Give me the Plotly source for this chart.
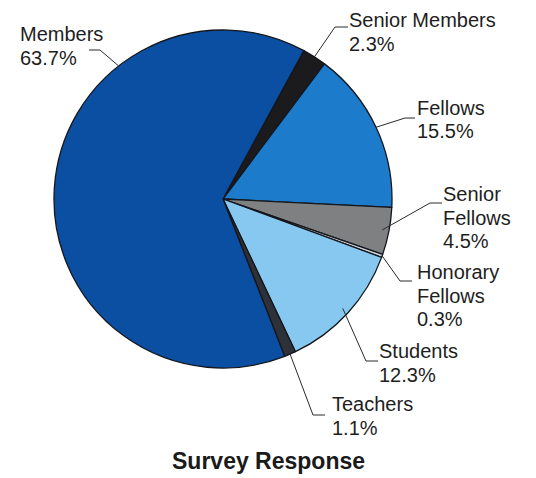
import math
import plotly.graph_objects as go

# Survey response breakdown by membership grade
categories = ["Senior Members", "Fellows", "Senior Fellows", "Honorary Fellows",
              "Students", "Teachers", "Members"]
shares = [2.3, 15.5, 4.5, 0.3, 12.3, 1.1, 63.7]
colors = ["#1b1b1e", "#1c7bcb", "#7e8081", "#c8d2da", "#86c8ef", "#2e3238", "#0b4fa3"]
label_lines = {
    "Senior Fellows": ["Senior", "Fellows"],
    "Honorary Fellows": ["Honorary", "Fellows"],
}

W, H = 536, 478
CX, CY, R = 223, 199, 169          # pie centre and radius, in pixels
START = 28.6                       # first slice starts this many degrees clockwise from 12 o'clock
LINE_GAP = 23.5                    # vertical distance between label lines, px
FONT = "Liberation Sans, Arial"

# Label placement (pixels): text left edge, centre of first line, leader elbow,
# where along the slice the leader lands and at what fraction of the radius
label_pos = {
    "Members":          dict(x=18,  y=34,  elbow=[(89, 50), (100, 50)],   frac=0.71, rad=1.0),
    "Senior Members":   dict(x=347, y=20,  elbow=[(348, 27), (335, 27)],  frac=0.5,  rad=1.0),
    "Fellows":          dict(x=415, y=108, elbow=[(415, 118), (405, 118)], frac=0.5, rad=1.0),
    "Senior Fellows":   dict(x=441, y=194, elbow=[(442, 203), (430, 203)], frac=0.5, rad=0.96),
    "Honorary Fellows": dict(x=415, y=272, elbow=[(412, 281), (400, 281)], frac=0.5, rad=1.0),
    "Students":         dict(x=377, y=351, elbow=[(378, 361), (366, 361)], frac=0.5, rad=0.96),
    "Teachers":         dict(x=330, y=404, elbow=[(325, 415), (313, 415)], frac=0.5, rad=1.0),
}


def px(x):
    return x / W


def py(y):
    return 1 - y / H


fig = go.Figure(go.Pie(
    labels=categories,
    values=shares,
    sort=False,
    direction="clockwise",
    rotation=START,
    textinfo="none",
    hoverinfo="label+percent",
    marker=dict(colors=colors, line=dict(color="#15161c", width=1.3)),
    domain=dict(x=[px(CX - R), px(CX + R)], y=[py(CY + R), py(CY - R)]),
    showlegend=False,
))

total = sum(shares)
annotations = []
shapes = []
angle = START
for cat, val in zip(categories, shares):
    span = val / total * 360
    pos = label_pos[cat]
    a = math.radians(angle + span * pos["frac"])
    rx = CX + R * pos["rad"] * math.sin(a)
    ry = CY - R * pos["rad"] * math.cos(a)
    pts = pos["elbow"] + [(rx, ry)]
    path = "M " + " L ".join(f"{px(x)},{py(y)}" for x, y in pts)
    shapes.append(dict(type="path", xref="paper", yref="paper", path=path,
                       line=dict(color="#2a2a2a", width=1)))
    lines = label_lines.get(cat, [cat]) + [f"{val}%"]
    for i, line in enumerate(lines):
        annotations.append(dict(
            x=px(pos["x"]), y=py(pos["y"] + i * LINE_GAP), xref="paper", yref="paper",
            xanchor="left", yanchor="middle", align="left", showarrow=False,
            text=line,
            font=dict(family=FONT, size=20, color="#1e1e1e"),
        ))
    angle += span

annotations.append(dict(
    x=px(268), y=py(460.5), xref="paper", yref="paper",
    xanchor="center", yanchor="middle", showarrow=False,
    text="<b>Survey Response</b>",
    font=dict(family=FONT, size=23, color="#1a1a1a"),
))

fig.update_layout(
    width=W, height=H,
    margin=dict(l=0, r=0, t=0, b=0),
    paper_bgcolor="white",
    plot_bgcolor="white",
    annotations=annotations,
    shapes=shapes,
)

fig.write_html("out.html")
